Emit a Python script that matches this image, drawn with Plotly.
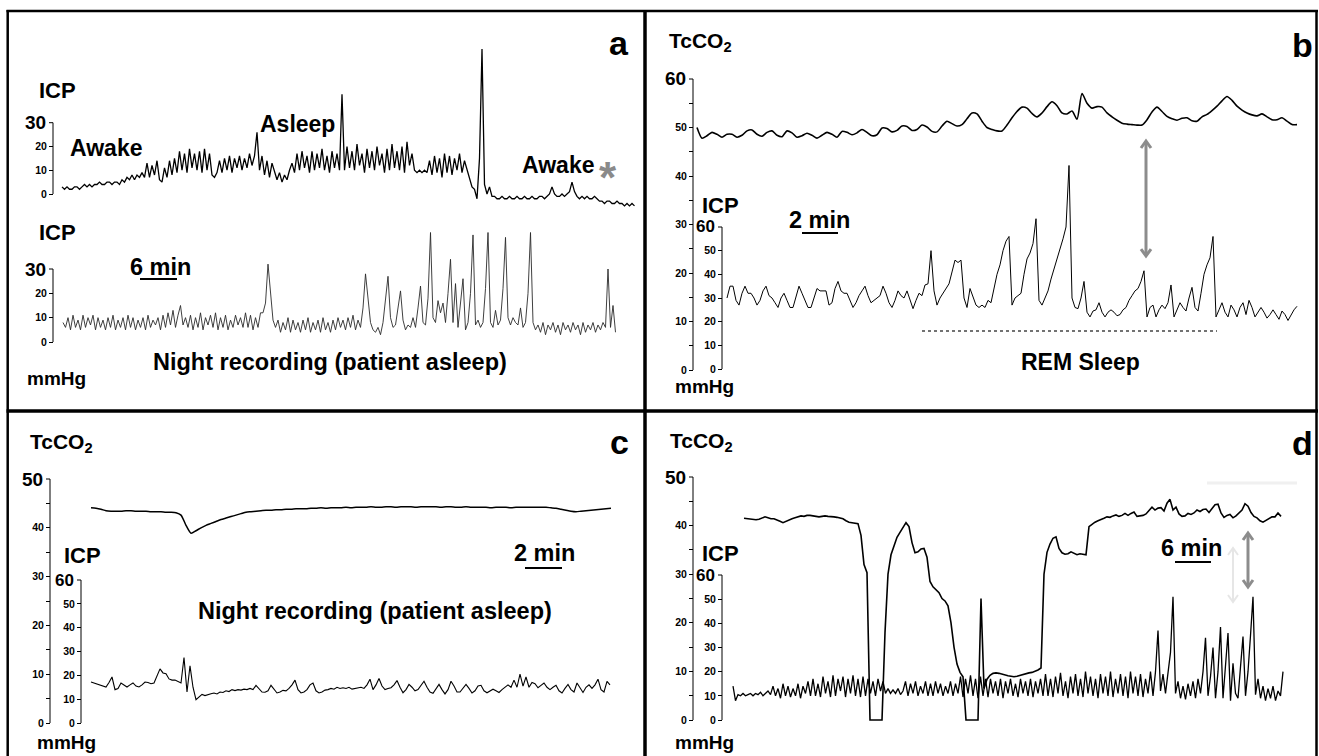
import plotly.graph_objects as go

W, H = 1319, 756
FONT = "Liberation Sans, Arial, Helvetica, sans-serif"

# ------------------------------------------------------------------ data
# (a) ICP, awake -> asleep -> awake  (mmHg)
a_icp_day = [3,2,3,2,2,3,3,2,3,4,3,4,3,4,4,5,4,4,5,5,4,5,5,4,
             6,5,7,6,8,6,8,7,9,7,
             13,7,12,8,14,6,5,11,7,14,8,15,
             9,18,10,17,9,19,11,17,10,18,9,19,10,17,
             8,7,9,
             14,9,15,10,16,9,15,11,16,10,15,11,17,12,16,
             26,
             10,16,8,14,7,13,9,
             6,9,5,8,6,10,
             13,9,17,10,18,11,16,9,18,10,17,11,19,10,16,9,18,11,17,10,
             42,
             10,20,11,18,10,21,12,17,9,19,11,18,10,20,12,17,9,19,10,21,11,18,10,20,9,22,12,17,10,
             9,10,9,10,9,
             14,8,16,9,15,7,17,9,16,8,15,10,17,9,14,
             10,6,3,
             2,-2,15,61,4,0,3,-1,
             -1,-2,-2,-1,-2,-2,-1,-2,-2,-1,-2,-2,-1,-2,-2,-1,-2,-2,-1,-1,-2,-1,0,
             3,
             0,-1,-1,0,-1,0,1,
             5,
             1,-1,-2,-1,-2,-1,-2,-2,-1,-2,
             -3,-3,-4,-3,-3,-4,-4,-3,-4,-4,-5,-4,-5,-4,-5]

# (a) ICP, night recording (patient asleep)
a_icp_night = [8,6,10,5,11,6,9,5,11,6,10,7,11,5,10,6,9,5,10,6,11,5,9,6,10,5,11,6,10,5,9,6,10,5,11,6,9,7,10,5,
               11,6,12,7,13,6,11,15,7,10,
               6,11,5,10,6,12,5,10,7,11,6,12,5,10,6,11,5,9,6,11,7,10,6,12,6,11,5,10,6,12,
               12,16,32,22,9,
               6,9,4,8,5,10,4,9,5,8,4,9,5,10,4,8,5,9,4,10,5,8,4,9,5,10,6,9,5,10,6,11,5,9,
               6,
               14,28,19,8,5,4,6,3,8,18,27,10,6,7,14,21,9,5,7,6,10,6,14,23,8,7,18,45,10,8,
               17,12,16,8,20,34,8,24,6,15,26,5,8,20,44,7,9,6,8,22,45,8,6,13,7,9,22,43,10,7,
               10,8,7,14,6,8,20,45,8,
               5,7,4,8,3,7,5,8,4,7,3,8,5,7,4,8,5,7,3,8,4,7,5,8,4,7,5,8,6,
               30,6,15,4]

# (b) TcCO2 and ICP, REM sleep
b_tcco2 = [50.0,47.8,48.3,49.0,48.6,48.0,48.6,48.6,48.0,48.4,
           49.3,49.5,48.6,48.2,49.0,49.3,48.4,48.1,49.3,48.9,
           48.0,48.3,48.8,48.4,47.8,48.4,49.0,48.6,48.0,49.2,
           49.0,48.5,48.9,49.6,49.0,48.3,48.5,49.9,49.8,49.1,
           49.4,50.3,50.2,49.4,49.6,50.5,50.1,49.2,49.1,50.3,
           51.3,50.8,50.3,50.6,51.8,53.0,52.8,51.3,50.0,49.6,
           49.3,49.3,50.5,52.0,53.3,54.2,54.0,52.9,52.2,53.0,
           54.3,55.3,54.5,53.0,52.8,53.4,51.7,57.0,55.0,54.0,
           54.3,54.2,53.0,52.2,51.5,50.9,50.7,50.6,50.5,50.5,
           51.6,53.2,54.2,53.3,52.3,51.8,51.5,51.9,52.0,51.4,
           51.3,52.2,52.7,53.5,54.4,55.5,56.4,55.6,54.4,53.6,
           53.0,52.6,52.4,52.8,52.2,51.6,51.6,52.0,51.3,50.6,50.6]

b_icp = [30,35,35,29,27,32,35,32,32,30,
         27,29,33,35,31,30,28,26,30,32,
         29,26,26,31,35,32,29,26,26,30,
         34,33,33,33,27,28,34,37,33,32,
         32,29,26,28,31,33,35,31,28,29,
         30,31,35,32,28,26,29,33,31,30,
         33,29,25.5,29,32,31,35.5,36,50,33,
         27,30,32,34,36,41,46,45,46,30,
         26,34,30,27,26,27,26,29,28,34,
         40,44,50,54,56,27,30,31,32,40,
         46.5,49,53,63.5,29,27,30,33,38,42,
         47,51,55,60,86,30,26,25.5,30,37,
         24,22,24.5,25,28,24,22,24,25,24,
         22.5,23,25,26,29,31,33,34,37,41.5,
         22,26,27,22,25,27,25.5,28,35.5,22,
         25,28,26,24.5,30,34.5,26,24.5,32,40,
         44,47,56,22,25,28,24,22,27,25,
         22,26,28,23,29,26,22,24,26,24,
         21.5,23,25,23,21,24.5,23,20.5,23,25,26.5]

# (c) TcCO2 and ICP, night recording
c_tcco2 = [44.1,44.0,43.8,43.5,43.4,43.4,43.4,43.5,43.5,43.4,43.4,43.4,43.3,43.3,43.3,43.2,43.2,43.1,
           42.6,40.5,38.9,39.4,40.0,40.5,40.9,41.3,41.7,42.0,42.3,42.6,42.9,43.2,
           43.3,43.4,43.5,43.6,43.6,43.7,43.7,43.8,43.8,43.9,43.9,43.9,
           44.0,44.0,44.1,44.0,44.1,44.1,44.1,44.2,44.1,44.2,44.2,44.2,44.3,44.2,44.2,44.3,
           44.3,44.2,44.3,44.3,44.3,44.2,44.3,44.3,44.3,44.3,44.2,44.3,44.3,44.2,44.2,44.3,
           44.2,44.2,44.2,44.2,44.1,44.2,44.2,44.2,44.1,44.2,44.2,44.2,44.2,44.2,44.2,
           44.2,44.1,44.0,43.8,43.6,43.4,43.3,43.4,43.5,43.6,43.7,43.8,43.9,44.0]

c_icp = [17.2,16.8,16.5,16.0,15.5,15.1,17,19.3,14,14.5,
         16.8,16,15.1,16,16.8,15.5,15.1,16,17.2,17,
         16.5,16.8,20,22.7,21,20.7,18.5,18,18,17.5,
         16.8,27.5,13,24,15,9.8,11,12,11.5,12,
         12.3,12.6,12.2,13,12.8,13.5,13.2,14,13.6,14,
         13.8,14.2,14,14.5,14,15.8,14.5,13,12.9,13.5,
         15.8,14,12.6,13,13.7,13.5,14.5,16,18,14,
         12.6,13,14,16,16.8,13.5,12.6,13,13.8,14,
         14.5,14.2,15,14.5,14.8,14.5,15,14.2,14.5,14.5,
         15,14.5,16,18.4,14,16,18.7,15.5,14,14.5,
         14.8,16,17.8,15,12.7,14,16.2,15,13.5,14,
         16,17.5,15,13,12.5,14.5,16.2,14,12.2,14,
         17.5,15.5,13,13,14.5,16.2,14.5,12.6,13.5,15.5,
         15.8,13.5,12.7,13.5,14.2,13.5,12.8,14,15.2,16,
         15,18,15,20.5,15.5,19.3,15,17,16.5,14.8,
         15.8,16.8,15,14,15,15.8,13.5,12.6,14.5,16.2,
         14,13,16.8,15,12.8,15,16,14.5,16,18.4,
         14,13,17.5,16]

# (d) TcCO2 and ICP
d_tcco2 = [41.5,41.4,41.3,41.2,41.2,41.3,41.5,41.8,41.6,41.4,
           41.4,41.2,40.9,40.6,40.9,41.2,41.4,41.6,41.8,42.0,
           41.9,42.1,42.1,42.0,41.9,41.8,41.9,42.0,41.9,41.9,
           41.8,41.7,41.6,41.4,41.0,40.7,40.6,40.5,40.4,38,
           32,30.3,0,0,0,0,0,18,30,34,
           36,37.6,38.6,39.5,40.6,39.8,36.5,34.4,34.6,35.2,
           35.3,33.5,28.5,27.4,26.8,26.2,25,24.5,23.5,20,
           15,11.5,9.8,8.9,0,0,0,0,0,25,
           6.5,8.4,9.2,9.6,9.7,9.6,9.4,9.3,9.1,9.0,
           8.9,9.0,9.2,9.4,9.6,9.7,9.8,10.0,10.3,10.7,
           30,34.5,36.2,37.4,37.7,35.3,34.4,34.1,34.2,34.6,
           34.3,34.0,34.2,34.1,34.0,39.8,40.3,40.7,41.0,41.2,
           41.5,41.8,41.7,42.0,42.2,41.9,42.1,42.5,42.1,42.5,
           42.8,41.9,42.0,42.1,42.4,43.0,43.8,43.2,43.6,43.7,
           43.0,44.6,45.4,43.2,43.8,42.4,41.9,42.0,42.5,42.3,
           42.6,43.2,42.9,43.3,43.4,42.7,43.6,44.3,44.4,42.6,
           41.7,42.1,42.3,41.6,42.0,42.6,43.2,44.5,44.0,42.7,
           41.9,41.6,41.0,40.7,41.1,41.5,41.8,41.8,42.6,41.9]

d_icp = [14,
         8,10.5,10,11,10,10.5,11,10,11,10.5,11.5,10,11,12,10.5,
         14,10,13,9,15,10,14,9.5,13,10,15,9,14,11,16,10,
         17,10,15,9.5,18,11,16,9.5,18.5,10,17,12,18,9.5,17,11,18.5,10,17,9.5,18,
         10,17,11,16,10,17,12,16,
         11,13,11,12.5,11,13,10.5,12,
         16,10,15,11,16,10,14,11,16,10,
         15,10,16,11,15,10,14,11,16,10,15,11,
         18,9.5,17,11,18.5,10,17,9,18,10,17,
         9.5,17,11,16,10,17,9,16,11,17,10,15,9.5,17,11,16,10,17,9.5,16,11,17,10,
         19,10,17,9.5,18,11,19.5,10,16,9,18,11,19,10,17,9.5,20,11,18,10,
         17,9,19,11,18,10,20,9.5,17,11,19,10,18,9,20,11,18,10,19,9.5,17,11,20,10,
         20,37,12,19,11,20,28,51,11,16,9,14,8.5,15,10,16,9,17,11,20,
         34,10,18,30,9,20,38.5,9,22,36,8,23.5,11,9,22,34.5,10,20,35,51,
         10.5,17,9,14,8,13,9,14,8,12,10,20]

icp_ticks_30 = [0, 10, 20, 30]
ticks_60 = [0, 10, 20, 30, 40, 50, 60]
ticks_50 = [0, 10, 20, 30, 40, 50]
minor_60 = [5, 15, 25, 35, 45, 55]
minor_50 = [5, 15, 25, 35, 45]

# ------------------------------------------------------------------ layout helpers
def px(x):
    return x / W

def py(y):
    return 1 - y / H

fig = go.Figure()
layout = dict(width=W, height=H, margin=dict(l=0, r=0, t=0, b=0),
              paper_bgcolor="white", plot_bgcolor="rgba(0,0,0,0)",
              showlegend=False, hovermode=False, template="none")
shapes, annotations = [], []

# channel geometry: values, trace x start/end px, spine px, zero px, top value, top px,
# ticks, minor ticks, domain (top px, bottom px), line width, colour, big-label size, line shape
channels = [
    (a_icp_day, 62, 634.5, 53, 194, 30, 122.7, icp_ticks_30, None, (14, 212), 1.3, "black", 19, "linear"),
    (a_icp_night, 63, 615.5, 53, 342, 30, 269, icp_ticks_30, None, (214, 408), 0.9, "#2a2a2a", 19, "linear"),
    (b_tcco2, 697, 1297, 693, 370, 60, 79, ticks_60, minor_60, (14, 408), 1.6, "black", 19, "spline"),
    (b_icp, 727, 1297, 722, 369, 60, 227, ticks_60, None, (14, 408), 1.0, "black", 17, "linear"),
    (c_tcco2, 91, 611, 50, 723, 50, 479, ticks_50, minor_50, (414, 755), 1.5, "black", 19, "spline"),
    (c_icp, 91, 610, 81, 723, 60, 580, ticks_60, None, (414, 755), 1.1, "black", 17, "linear"),
    (d_tcco2, 744, 1281, 693, 720, 50, 477, ticks_50, minor_50, (414, 755), 1.6, "black", 19, "linear"),
    (d_icp, 733, 1283, 722, 720, 60, 575, ticks_60, None, (414, 755), 1.3, "black", 17, "linear"),
]

for i, (vals, xs, xe, spine, zero_px, top_val, top_px, ticks, minor, dom, lw, col, big, shape) in enumerate(channels, start=1):
    sfx = "" if i == 1 else str(i)
    n = len(vals)
    pad = 3
    sx = (xe - xs) / (n - 1)
    sy = (zero_px - top_px) / top_val
    ytop, ybot = dom
    line = dict(color=col, width=lw, shape=shape)
    if shape == "spline":
        line["smoothing"] = 0.7
    fig.add_trace(go.Scatter(x=list(range(n)), y=vals, xaxis="x" + sfx, yaxis="y" + sfx,
                             mode="lines", line=line, hoverinfo="skip"))
    layout["xaxis" + sfx] = dict(domain=[px(xs - pad), px(xe + pad)],
                                 range=[-pad / sx, n - 1 + pad / sx],
                                 visible=False, anchor="y" + sfx, fixedrange=True)
    yax = dict(domain=[py(ybot), py(ytop)],
               range=[(zero_px - ybot) / sy, (zero_px - ytop) / sy],
               anchor="free", position=px(spine), side="left",
               showline=False, showgrid=False, zeroline=False, automargin=False,
               ticks="outside", ticklen=4, tickwidth=1, tickcolor="black",
               tickmode="array", tickvals=ticks[:-1],
               ticktext=[str(t) for t in ticks[:-1]],
               tickfont=dict(family=FONT, size=10.5, color="black", weight="bold"),
               fixedrange=True)
    if minor:
        yax["minor"] = dict(tickmode="array", tickvals=minor, ticks="outside",
                            ticklen=4, tickwidth=1, tickcolor="black", showgrid=False)
    layout["yaxis" + sfx] = yax
    # axis spine and its top tick
    shapes.append(dict(type="line", xref="paper", yref="y" + sfx,
                       x0=px(spine), x1=px(spine), y0=0, y1=top_val,
                       line=dict(color="black", width=1)))
    shapes.append(dict(type="line", xref="paper", yref="y" + sfx,
                       x0=px(spine - 4), x1=px(spine), y0=top_val, y1=top_val,
                       line=dict(color="black", width=1)))
    annotations.append(dict(text=str(ticks[-1]), x=px(spine - 5), y=top_val, xref="paper",
                            yref="y" + sfx, xanchor="right", yanchor="middle", showarrow=False,
                            font=dict(family=FONT, size=big, color="black", weight="bold")))


def ann(text, x, y, size, anchor="left", color="black"):
    annotations.append(dict(text=text, x=px(x), y=py(y), xref="paper", yref="paper",
                            xanchor=anchor, yanchor="middle", showarrow=False,
                            font=dict(family=FONT, size=size, color=color, weight="bold")))


def hline(x0, x1, y, width, color="black", dash="solid"):
    shapes.append(dict(type="line", xref="paper", yref="paper", x0=px(x0), x1=px(x1),
                       y0=py(y), y1=py(y), line=dict(color=color, width=width, dash=dash)))


def vline(x, y0, y1, width, color="black"):
    shapes.append(dict(type="line", xref="paper", yref="paper", x0=px(x), x1=px(x),
                       y0=py(y0), y1=py(y1), line=dict(color=color, width=width)))


def arrow(x, y0, y1, color, width=3, hw=5, hh=7):
    # vertical double-headed arrow with open chevron heads, from pixel y0 (top) to y1 (bottom)
    vline(x, y0 + 1, y1 - 1, width, color)
    for tip, back in ((y0, y0 + hh), (y1, y1 - hh)):
        path = "M {:.5f} {:.5f} L {:.5f} {:.5f} L {:.5f} {:.5f}".format(
            px(x - hw), py(back), px(x), py(tip), px(x + hw), py(back))
        shapes.append(dict(type="path", xref="paper", yref="paper", path=path,
                           line=dict(color=color, width=width)))


# panel frame
hline(6.5, 1318, 11, 2.5)
vline(7.7, 10, 760, 2.5)
vline(1316.5, 10, 760, 2.5)
vline(645, 10, 760, 3.5)
hline(6.5, 1318, 411, 3.5)

# panel a
ann("ICP", 37, 91, 22)
ann("Awake", 68, 148, 23)
ann("Asleep", 258, 124, 23)
ann("Awake", 520, 165, 23)
ann("*", 608, 177, 44, anchor="center", color="#8a8a8a")
ann("ICP", 37, 233, 22)
ann("6 min", 128, 267, 23.5)
hline(140, 177, 279, 2)
ann("Night recording (patient asleep)", 330, 362, 23.5, anchor="center")
ann("mmHg", 25, 379, 19)
ann("a", 619, 43, 34, anchor="center")

# panel b
ann("TcCO<sub>2</sub>", 667, 42, 21)
ann("b", 1302, 45, 34, anchor="center")
ann("ICP", 700, 205, 22)
ann("2 min", 787, 220, 23.5)
hline(802, 838, 233, 2)
ann("mmHg", 673, 387, 19)
ann("REM Sleep", 1080, 362, 23, anchor="center")
hline(922, 1217, 331, 1.5, color="#444444", dash="dot")
arrow(1146, 141, 256, "#8c8c8c")

# panel c
ann("TcCO<sub>2</sub>", 28, 443, 21)
ann("c", 619, 442, 34, anchor="center")
ann("ICP", 62, 555, 22)
ann("mmHg", 35, 742, 19)
ann("Night recording (patient asleep)", 375, 611, 23.5, anchor="center")
ann("2 min", 512, 553, 23.5)
hline(525, 562, 568, 2)

# panel d
ann("TcCO<sub>2</sub>", 668, 442, 21)
ann("d", 1302, 443, 34, anchor="center")
ann("ICP", 700, 553, 22)
ann("mmHg", 673, 742, 19)
hline(1207, 1297, 483, 3, color="#f0f0f0")
arrow(1233, 548, 602, "#e6e6e6", width=2)
ann("6 min", 1159, 548, 23.5)
hline(1175, 1211, 562, 2)
arrow(1248, 533, 587, "#8c8c8c")

layout["shapes"] = shapes
layout["annotations"] = annotations
fig.update_layout(**layout)
fig.write_html("out.html", config={"displayModeBar": False, "staticPlot": True},
               post_script="document.body.style.margin='0';document.body.style.overflow='hidden';")
